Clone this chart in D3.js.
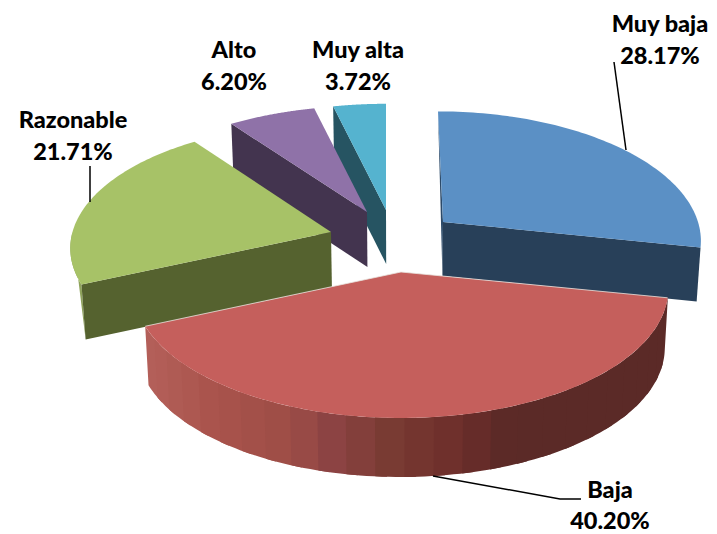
<!DOCTYPE html>
<html>
<head>
<meta charset="utf-8">
<script src="https://cdn.jsdelivr.net/npm/d3@7/dist/d3.min.js"></script>
<style>
html,body{margin:0;padding:0;background:#fff}
svg{display:block}
text{font-family:Lato,"Open Sans",sans-serif;font-weight:900;font-size:23.5px;fill:#000;text-anchor:middle}
</style>
</head>
<body>
<svg id="chart" width="717" height="534"></svg>
<script>
const categories = ["Muy baja", "Baja", "Razonable", "Alto", "Muy alta"];
const percentages = [28.17, 40.20, 21.71, 6.20, 3.72];
const topColors = ["#5b90c5", "#c55f5c", "#a7c267", "#8f72a8", "#55b3cf"];
const radialWallColors = ["#284059", "#5c2a27", "#55622f", "#43344f", "#265462"];

// layout: slice apex on the page, plane radii and extrusion
const apexX = [443, 401, 331, 367, 386];
const apexY = [222, 272, 232, 212, 210];
const radiusX = [255, 265, 258.5, 257, 257];
const radiusY = [125, 127, 123, 120, 120];
const shearX = [5, 0, 0, 0, 0];
const depths = [54, 59, 55, 55, 54];
const labelX = [660, 610, 73, 234, 358];
const labelY = [32, 498, 128, 58, 58];
const labelStep = [32, 31, 32, 32, 32];

const perspective = 0.13, convergeX = 400, converge = 0.013;
const drawOrder = [4, 3, 2, 0, 1];

const svg = d3.select("#chart");
const pie = d3.pie().sort(null).value(d => d)(percentages);
const fmt = d3.format(".2f");

function project(i, a) {
  const u = Math.sin(a), v = -Math.cos(a), w = 1 - perspective * v;
  return [apexX[i] + radiusX[i] * u / w + shearX[i] * v, apexY[i] + radiusY[i] * v / w];
}
const down = (i, p) => [convergeX + (p[0] - convergeX) * (1 - converge), p[1] + depths[i]];
const line = d3.line();
const arcPts = (i, a0, a1, n = 80) => d3.range(n + 1).map(k => project(i, a0 + (a1 - a0) * k / n));

const wallShade = d3.scaleLinear()
  .domain([147, 220, 300, 330, 400, 470, 505, 530, 700])
  .range(["#b4605a", "#a9534c", "#9c4c46", "#8e4445", "#783a32", "#6c2d2a", "#5c2a27", "#5b2a27", "#5b2a27"]);

function drawSlice(i) {
  const s = pie[i], g = svg.append("g");
  const a0 = s.startAngle, a1 = s.endAngle;
  const apex = [apexX[i], apexY[i]], pStart = project(i, a0), pEnd = project(i, a1);

  if (i === 0) {
    g.append("path").attr("d", line([pStart, down(i, apex), apex]) + "Z").attr("fill", "#2c4a69");
    g.append("path").attr("d", line([apex, pEnd, down(i, pEnd), down(i, apex)]) + "Z").attr("fill", radialWallColors[i]);
  }
  if (i === 2) {
    const outer = arcPts(i, a0, Math.PI * 1.5, 30);
    g.append("path").attr("d", line(outer.concat([down(i, pStart)])) + "Z").attr("fill", "#8fa35c");
    g.append("path").attr("d", line([apex, pStart, down(i, pStart), down(i, apex)]) + "Z").attr("fill", radialWallColors[i]);
  }
  if (i === 3 || i === 4) {
    g.append("path").attr("d", line([apex, pStart, down(i, pStart), down(i, apex)]) + "Z").attr("fill", radialWallColors[i]);
  }
  // curved outer wall of the front slice, as shaded strips drawn right to left
  if (i === 1) {
    const n = 26;
    d3.range(n).reverse().forEach(k => {
      const b0 = a0 + (a1 - a0) * k / n, b1 = a0 + (a1 - a0) * (k + 1) / n;
      const top = arcPts(i, b0 - (a1 - a0) * 0.4 / n, b1, 6);
      const x = (top[0][0] + top[6][0]) / 2;
      g.append("path")
        .attr("d", line(top.concat(top.slice().reverse().map(p => down(i, p)))) + "Z")
        .attr("fill", wallShade(x));
    });
  }
  g.append("path")
    .attr("d", line([apex].concat(arcPts(i, a0, a1))) + "Z")
    .attr("fill", topColors[i]);
  if (i === 1) {
    g.append("path").attr("d", line([pStart, apex, pEnd]))
      .attr("fill", "none").attr("stroke", "#e8e4e0").attr("stroke-width", 0.8);
  }
}
drawOrder.forEach(drawSlice);

// leader lines
const leaders = [
  [[614, 62], [626, 150]],
  [[433, 476], [560, 499], [581, 499]],
  [[90, 166], [90, 202]]
];
leaders.forEach(l => svg.append("path").attr("d", line(l))
  .attr("fill", "none").attr("stroke", "#000").attr("stroke-width", 1.5));

// labels
categories.forEach((c, i) => {
  const t = svg.append("text").attr("x", labelX[i]).attr("y", labelY[i]);
  t.append("tspan").attr("x", labelX[i]).text(c);
  t.append("tspan").attr("x", labelX[i]).attr("dy", labelStep[i]).text(fmt(percentages[i]) + "%");
});
</script>
</body>
</html>
